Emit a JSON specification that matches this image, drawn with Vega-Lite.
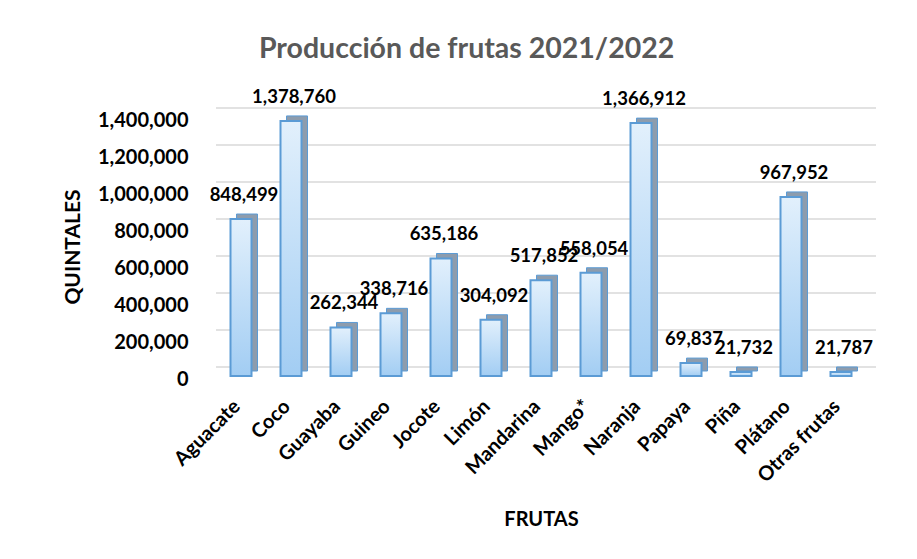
{
  "$schema": "https://vega.github.io/schema/vega-lite/v6.json",
  "autosize": "none",
  "width": 650,
  "height": 259,
  "padding": {"left": 216, "top": 117, "right": 51, "bottom": 183},
  "background": "white",
  "config": {
    "font": "Lato",
    "view": {"stroke": null}
  },
  "title": {
    "text": "Producción de frutas 2021/2022",
    "font": "Lato",
    "fontSize": 28.5,
    "fontWeight": "bold",
    "color": "#595959",
    "anchor": "middle",
    "frame": "bounds",
    "offset": 24,
    "dx": -3
  },
  "datasets": {
    "frutas": [
      {"fruta": "Aguacate", "quintales": 848499},
      {"fruta": "Coco", "quintales": 1378760},
      {"fruta": "Guayaba", "quintales": 262344},
      {"fruta": "Guineo", "quintales": 338716},
      {"fruta": "Jocote", "quintales": 635186},
      {"fruta": "Limón", "quintales": 304092},
      {"fruta": "Mandarina", "quintales": 517852},
      {"fruta": "Mango*", "quintales": 558054},
      {"fruta": "Naranja", "quintales": 1366912},
      {"fruta": "Papaya", "quintales": 69837},
      {"fruta": "Piña", "quintales": 21732},
      {"fruta": "Plátano", "quintales": 967952},
      {"fruta": "Otras frutas", "quintales": 21787}
    ],
    "grid": [
      {"v": 0}, {"v": 200000}, {"v": 400000}, {"v": 600000},
      {"v": 800000}, {"v": 1000000}, {"v": 1200000}, {"v": 1400000}
    ]
  },
  "encoding": {
    "y": {"type": "quantitative",
      "scale": {"domain": [0, 1400000], "nice": false},
      "axis": {
        "title": "QUINTALES", "titleFont": "Lato", "titleFontSize": 21, "titleFontWeight": "bold", "titleColor": "#000000", "titlePadding": 14,
        "values": [0, 200000, 400000, 600000, 800000, 1000000, 1200000, 1400000],
        "format": ",d", "labelFont": "Lato", "labelFontSize": 20, "labelFontWeight": "bold", "labelColor": "#000000",
        "labelPadding": 28, "labelOffset": 3, "ticks": false, "domain": false, "grid": false
      }
    }
  },
  "layer": [
    {
      "data": {"name": "grid"},
      "mark": {"type": "rule", "color": "#d9d9d9", "strokeWidth": 1.5, "xOffset": 10, "yOffset": -9},
      "encoding": {
        "y": {"field": "v", "type": "quantitative", "title": "QUINTALES"}
      }
    },
    {
      "data": {"name": "frutas"},
      "encoding": {
        "x": {"field": "fruta", "type": "nominal", "sort": null,
          "scale": {"paddingInner": 0.58, "paddingOuter": 0.29},
          "axis": {
            "title": "FRUTAS", "titleFont": "Lato", "titleFontSize": 20, "titleFontWeight": "bold", "titleColor": "#000000", "titlePadding": 24,
            "labelAngle": -45, "labelFont": "Lato", "labelFontSize": 20, "labelFontWeight": "bold", "labelColor": "#000000",
            "labelPadding": 20, "labelOffset": -11, "ticks": false, "domain": false
          }
        },
        "y": {"field": "quintales", "type": "quantitative", "title": "QUINTALES"}
      },
      "layer": [
        {
          "mark": {"type": "bar", "color": "#8d9cad", "stroke": "#5b9bd5", "strokeWidth": 1, "xOffset": 6, "yOffset": -5}
        },
        {
          "mark": {
            "type": "bar", "stroke": "#5b9bd5", "strokeWidth": 2,
            "color": {"gradient": "linear", "x1": 0, "y1": 0, "x2": 0, "y2": 1,
              "stops": [{"offset": 0, "color": "#e2f0fc"}, {"offset": 1, "color": "#a2cdf3"}]}
          }
        },
        {
          "mark": {"type": "text", "font": "Lato", "fontSize": 18.5, "fontWeight": "bold", "color": "#000000", "dy": -24, "dx": 3},
          "encoding": {
            "text": {"field": "quintales", "type": "quantitative", "format": ",d"}
          }
        }
      ]
    }
  ]
}
